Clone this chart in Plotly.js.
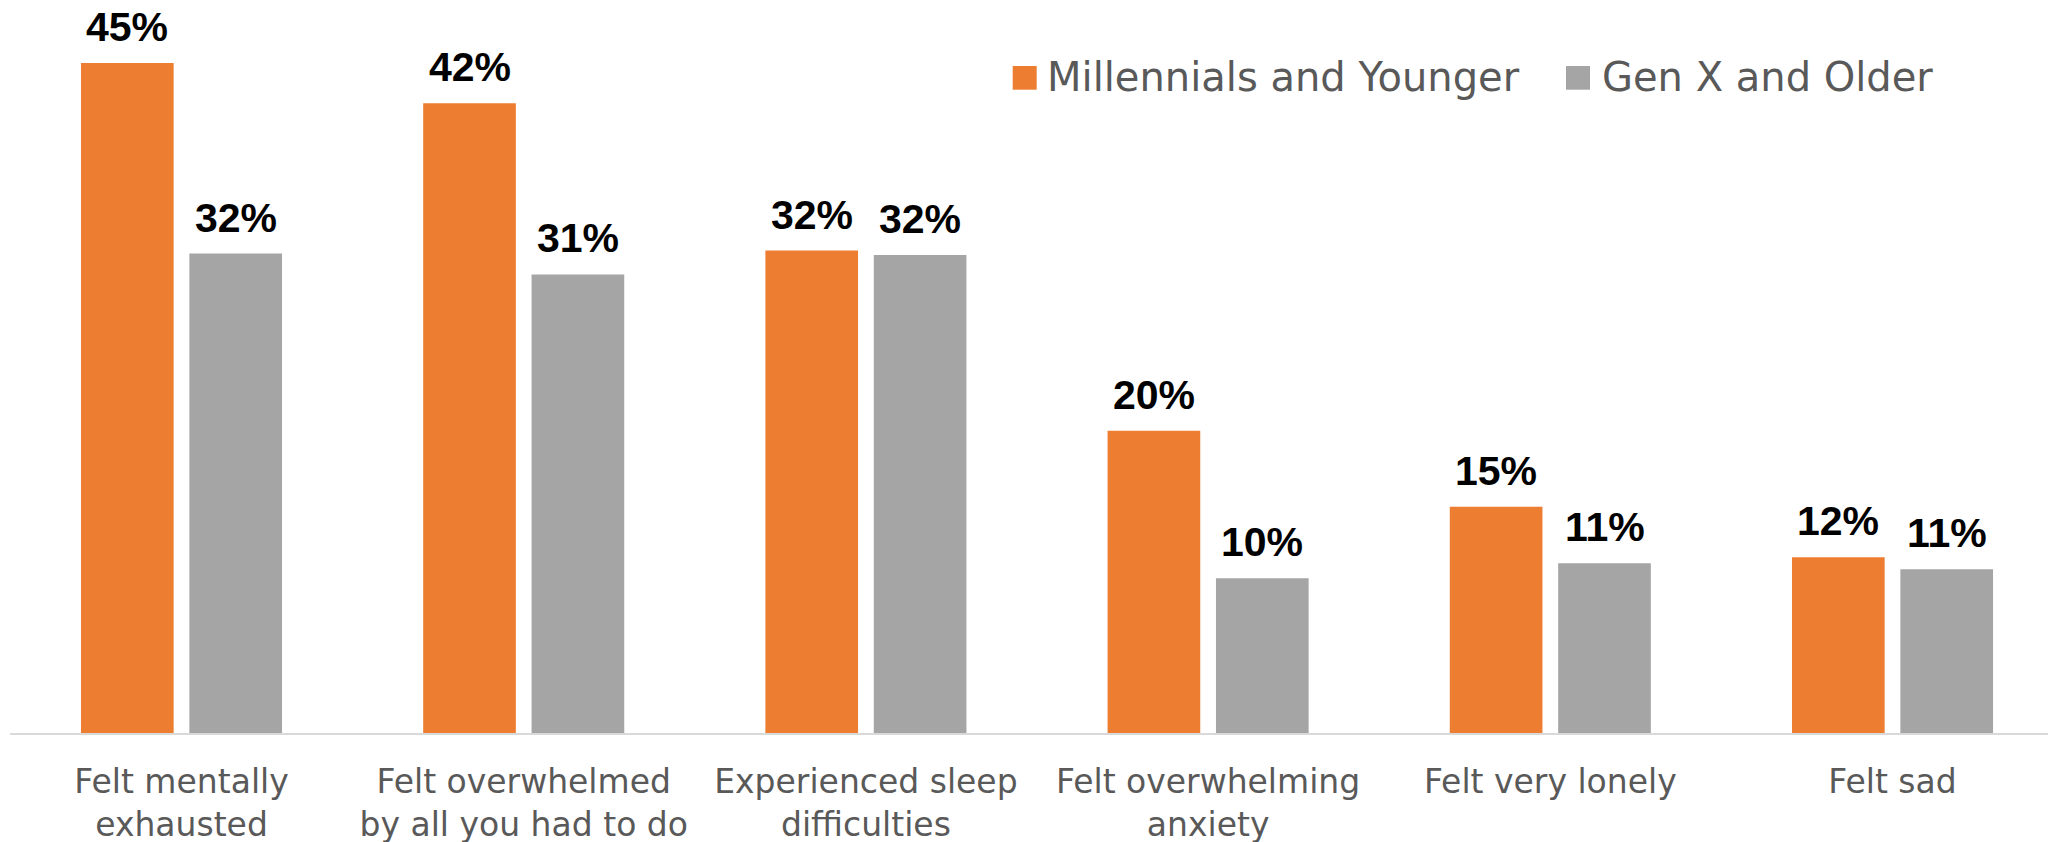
<!DOCTYPE html>
<html>
<head>
<meta charset="utf-8">
<script src="https://cdn.plot.ly/plotly-3.0.1.min.js"></script>
<style>
  html, body { margin: 0; padding: 0; background: #ffffff; }
  #chart { width: 2048px; height: 842px; }
</style>
</head>
<body>
<div id="chart"></div>
<script>
// ---- Data ----
const categories = [
  "Felt mentally<br>exhausted",
  "Felt overwhelmed<br>by all you had to do",
  "Experienced sleep<br>difficulties",
  "Felt overwhelming<br>anxiety",
  "Felt very lonely",
  "Felt sad"
];
const seriesNames = ["Millennials and Younger", "Gen X and Older"];
const millennials = [45.0, 42.3, 32.4, 20.3, 15.2, 11.8];
const genX = [32.2, 30.8, 32.1, 10.4, 11.4, 11.0];
const seriesColors = ["#ED7D31", "#A5A5A5"];

// ---- Layout constants ----
const W = 2048, H = 842;
const ML = 10, MR = 0, MT = 0, MB = 109;
const plotW = W - ML - MR, plotH = H - MT - MB;
const catPx = 342.2;           // pixels per category
const pxPerPct = 14.89;        // pixels per percentage point
const xStart = -0.5012;
const xRange = [xStart, xStart + plotW / catPx];
const yRange = [0, plotH / pxPerPct];

const barOffsetPx = 54.2;

const traces = [millennials, genX].map((vals, i) => ({
  type: "bar",
  name: seriesNames[i],
  x: categories,
  y: vals,
  marker: { color: seriesColors[i], line: { width: 0 } },
  hoverinfo: "skip",
  showlegend: false
}));

const annotations = [];
[millennials, genX].forEach((vals, si) => {
  vals.forEach((v, ci) => {
    annotations.push({
      x: categories[ci], xref: "x",
      y: v, yref: "y",
      text: Math.round(v) + "%",
      showarrow: false,
      xanchor: "center", yanchor: "bottom",
      xshift: si === 0 ? -barOffsetPx : barOffsetPx,
      yshift: 11,
      font: { family: "Liberation Sans, Arial, sans-serif", size: 41, color: "#000000", weight: "bold" }
    });
  });
});

// custom legend
const px2x = p => (p - ML) / plotW;
const py2y = p => (MT + plotH - p) / plotH;
const legendItems = [
  { sw: 1012.7, tx: 1044.5 },
  { sw: 1566, tx: 1600 }
];
const shapes = [];
legendItems.forEach((it, i) => {
  shapes.push({
    type: "rect", xref: "paper", yref: "paper",
    x0: px2x(it.sw), x1: px2x(it.sw + 24),
    y0: py2y(89.7), y1: py2y(66),
    fillcolor: seriesColors[i], line: { width: 0 }
  });
  annotations.push({
    x: px2x(it.tx), xref: "paper",
    y: py2y(77.5), yref: "paper",
    text: seriesNames[i],
    showarrow: false,
    xanchor: "left", yanchor: "middle",
    font: { family: "DejaVu Sans, sans-serif", size: 40, color: "#595959" }
  });
});

const layout = {
  width: W, height: H,
  margin: { l: ML, r: MR, t: MT, b: MB, pad: 0 },
  paper_bgcolor: "#ffffff",
  plot_bgcolor: "#ffffff",
  barmode: "group",
  bargap: 0.3665,
  bargroupgap: 0.145,
  showlegend: false,
  xaxis: {
    type: "category",
    range: xRange,
    showline: true,
    linecolor: "#D9D9D9",
    linewidth: 2,
    ticks: "",
    showgrid: false,
    zeroline: false,
    ticklabelstandoff: 18,
    tickfont: { family: "DejaVu Sans, sans-serif", size: 33, color: "#595959" },
    fixedrange: true
  },
  yaxis: {
    range: yRange,
    visible: false,
    showgrid: false,
    zeroline: false,
    fixedrange: true
  },
  annotations: annotations,
  shapes: shapes
};

Plotly.newPlot("chart", traces, layout, { displayModeBar: false, staticPlot: true });
</script>
</body>
</html>
